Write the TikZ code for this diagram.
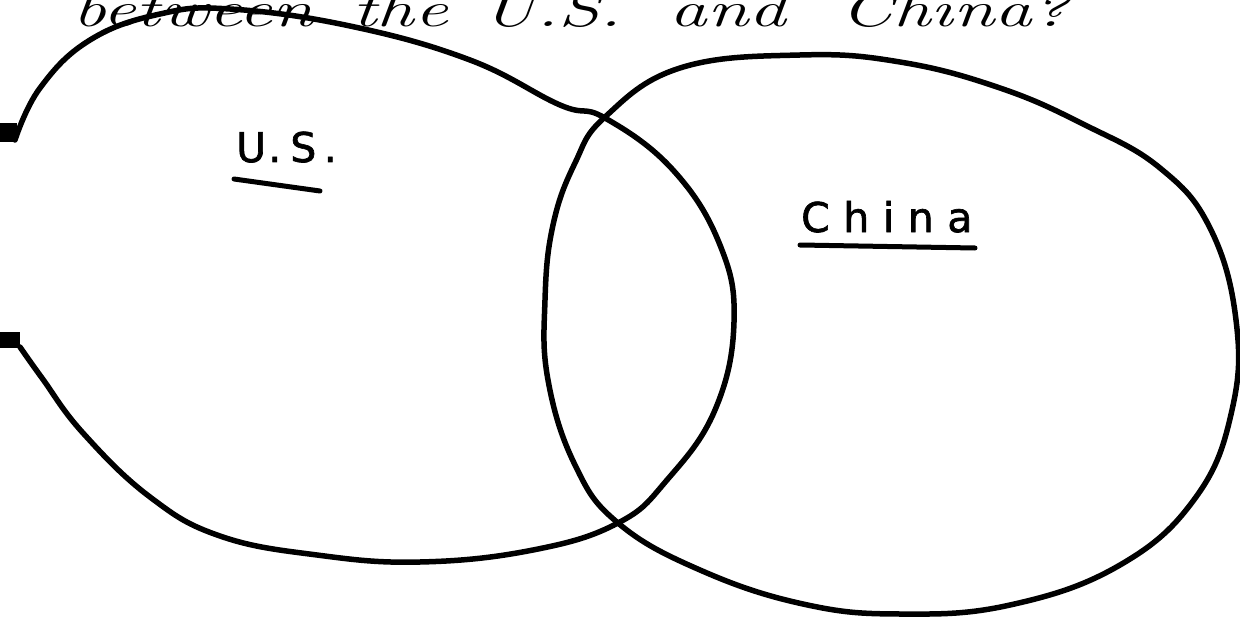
\documentclass[tikz,border=0pt]{standalone}
\usepackage{fontspec}
\newfontfamily\labelfont[FakeBold=1.6]{DejaVu Sans}
\begin{document}
\begin{tikzpicture}[x=1pt,y=-1pt,
  outline/.style={line width=5.5pt,line cap=round,line join=round},
  tab/.style={fill=black,draw=none},
  label/.style={font=\labelfont\fontsize{41}{48}\selectfont,inner sep=0pt},
  qtext/.style={anchor=base,inner sep=0pt,xscale=1.5,font=\fontsize{50}{60}\selectfont\itshape},
  uline/.style={line width=5pt,line cap=round}]
\useasboundingbox (0,0) rectangle (1240,623);
\begin{scope}
\clip (0,0) rectangle (1240,623);
\node[qtext] (q1) at (193,27) {between};
\node[qtext] (q2) at (400,27) {the};
\node[qtext] (q3) at (552,27) {U.S.};
\node[qtext] (q4) at (728,27) {and};
\node[qtext] (q5) at (955,27) {China?};
% U.S. region
\draw[outline] plot[smooth,tension=0.7] coordinates {
 (15,140) (40,88) (90,40) (160,14) (230,9) (350,26) (470,60) (560,105)
 (605,118) (673,170) (720,245) (734,322) (715,410) (667,480) (618,523)
 (533,550) (420,562) (317,555) (220,536) (150,497) (83,433) (42,378) (20,347)};
% China region
\draw[outline] plot[smooth cycle,tension=0.7] coordinates {
 (605,117) (680,68) (800,55) (900,62) (1000,88) (1085,125) (1160,168)
 (1210,228) (1236,320) (1232,410) (1196,497) (1120,565) (1010,605) (900,614)
 (803,604) (700,570) (618,523) (575,465) (548,380) (545,300) (553,225) (575,163)};
\fill[tab] (0,123) rectangle (17,142);
\fill[tab] (0,332) rectangle (20,348);
\end{scope}
\node[label,anchor=base west] (us) at (236,162) {U\kern.05em.\kern.22em S\kern.18em.};
\draw[uline] (234,179) -- (320,191);
\node[label,anchor=base west] (china) at (801,232) {C\kern.33em h\kern.33em i\kern.33em n\kern.33em a};
\draw[uline] (800,245) -- (975,248);
\end{tikzpicture}
\end{document}
